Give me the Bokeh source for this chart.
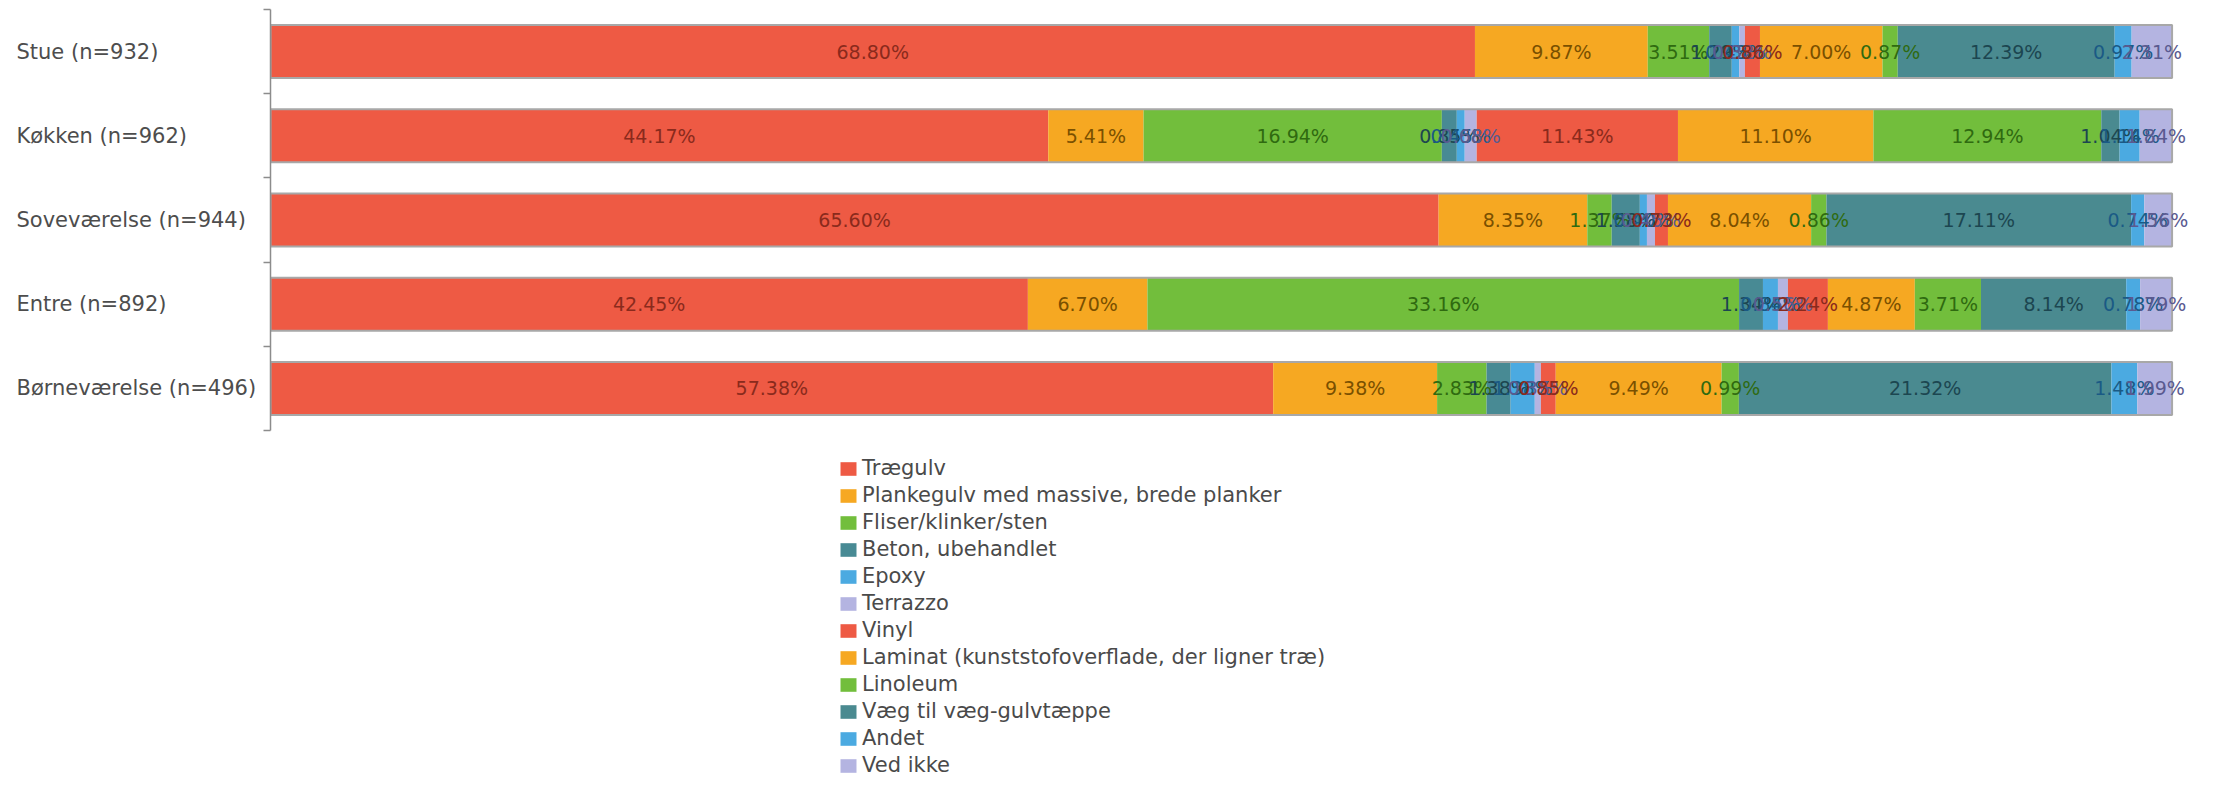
from bokeh.plotting import figure
from bokeh.layouts import row, column
from bokeh.models import ColumnDataSource, Legend, LegendItem, Range1d, FixedTicker
from bokeh.core.properties import value
from bokeh.embed import file_html
from bokeh.resources import INLINE

rooms = ["Stue (n=932)", "Køkken (n=962)", "Soveværelse (n=944)", "Entre (n=892)", "Børneværelse (n=496)"]

materials = ["Trægulv", "Plankegulv med massive, brede planker", "Fliser/klinker/sten",
             "Beton, ubehandlet", "Epoxy", "Terrazzo", "Vinyl",
             "Laminat (kunststofoverflade, der ligner træ)", "Linoleum",
             "Væg til væg-gulvtæppe", "Andet", "Ved ikke"]

traegulv   = [68.80, 44.17, 65.60, 42.45, 57.38]
plankegulv = [9.87, 5.41, 8.35, 6.70, 9.38]
fliser     = [3.51, 16.94, 1.37, 33.16, 2.83]
beton      = [1.29, 0.85, 1.58, 1.34, 1.38]
epoxy      = [0.43, 0.45, 0.40, 0.84, 1.38]
terrazzo   = [0.32, 0.68, 0.45, 0.56, 0.35]
vinyl      = [0.86, 11.43, 0.73, 2.24, 0.85]
laminat    = [7.00, 11.10, 8.04, 4.87, 9.49]
linoleum   = [0.87, 12.94, 0.86, 3.71, 0.99]
vaeg       = [12.39, 1.04, 17.11, 8.14, 21.32]
andet      = [0.97, 1.14, 0.74, 0.78, 1.48]
ved_ikke   = [2.31, 1.84, 1.56, 1.79, 1.99]

series = [traegulv, plankegulv, fliser, beton, epoxy, terrazzo, vinyl,
          laminat, linoleum, vaeg, andet, ved_ikke]

fill_colors = ["#EE5A44", "#F6A822", "#72BE3C", "#488A94", "#4BAAE1", "#B4B4E1",
               "#EE5A44", "#F6A822", "#72BE3C", "#4A8A90", "#4BAAE1", "#B4B4E1"]
text_colors = ["#8A2A1C", "#7A5000", "#2F6A10", "#1C4650", "#1A5A85", "#5A5A90",
               "#8A2A1C", "#7A5000", "#2F6A10", "#1C4650", "#1A5A85", "#5A5A90"]

FONT = "DejaVu Sans"

n = len(rooms)
ys = [n - i - 0.5 for i in range(n)]
totals = [sum(s[i] for s in series) for i in range(n)]
y_range = Range1d(0, n)

TOP, FRAME_H, BOTTOM = 9, 421, 26

# ---- left panel with the category names (left aligned) ----
pl = figure(frame_width=260, frame_height=FRAME_H, output_backend="svg", toolbar_location=None,
            x_range=Range1d(0, 1), y_range=y_range, x_axis_location=None, y_axis_location=None,
            min_border_left=0, min_border_right=0, min_border_top=TOP, min_border_bottom=BOTTOM)
pl.outline_line_color = None
pl.grid.visible = False
csrc = ColumnDataSource(dict(x=[0.0] * n, y=ys, text=rooms))
pl.text(x="x", y="y", text="text", source=csrc, x_offset=16, text_align="left",
        text_baseline="middle", text_color="#4d4d4d", text_font=value(FONT),
        text_font_size="21px")

# ---- main stacked bar panel ----
p = figure(frame_width=1932, frame_height=FRAME_H, output_backend="svg", toolbar_location=None,
           x_range=Range1d(0, 101.6), y_range=y_range,
           x_axis_location=None, min_border_left=10, min_border_right=5,
           min_border_top=TOP, min_border_bottom=BOTTOM)
p.outline_line_color = None
p.grid.visible = False

# ---- legend panel below ----
pg = figure(frame_width=620, frame_height=332, output_backend="svg", toolbar_location=None,
            x_range=Range1d(0, 101.6), y_range=y_range,
            x_axis_location=None, y_axis_location=None,
            min_border_left=838, min_border_right=0, min_border_top=0, min_border_bottom=0)
pg.outline_line_color = None
pg.grid.visible = False

cum = [0.0] * n
items = []
lab_x, lab_y, lab_t, lab_c = [], [], [], []
for k, s in enumerate(series):
    left = list(cum)
    right = [cum[i] + s[i] / totals[i] * 100 for i in range(n)]
    src = ColumnDataSource(dict(y=ys, left=left, right=right))
    p.hbar(y="y", left="left", right="right", height=0.63, source=src,
           fill_color=fill_colors[k], line_color=None)
    rl = pg.hbar(y="y", left="left", right="right", height=0.63, source=src,
                 fill_color=fill_colors[k], line_color=None, visible=False)
    items.append(LegendItem(label=materials[k], renderers=[rl]))
    for i in range(n):
        lab_x.append((left[i] + right[i]) / 2)
        lab_y.append(ys[i])
        lab_t.append("%.2f%%" % s[i])
        lab_c.append(text_colors[k])
    cum = right

osrc = ColumnDataSource(dict(y=ys, left=[0.0] * n, right=cum))
p.hbar(y="y", left="left", right="right", height=0.63, source=osrc,
       fill_color=None, line_color="#a8a8a8", line_width=2)

lsrc = ColumnDataSource(dict(x=lab_x, y=lab_y, text=lab_t, color=lab_c))
p.text(x="x", y="y", text="text", source=lsrc, text_align="center",
       text_baseline="middle", text_color="color",
       text_font=value(FONT), text_font_size="19px")

ax = p.yaxis[0]
ax.ticker = FixedTicker(ticks=list(range(n + 1)))
ax.major_label_overrides = {i: "" for i in range(n + 1)}
ax.major_label_standoff = 0
ax.major_tick_out = 7
ax.major_tick_in = 0
ax.minor_tick_line_color = None
ax.axis_line_color = "#8c8c8c"
ax.major_tick_line_color = "#8c8c8c"
ax.axis_line_width = 1.5
ax.major_tick_line_width = 1.5

legend = Legend(items=items, location="top_left", orientation="vertical")
legend.label_text_font = FONT
legend.label_text_font_size = "21px"
legend.label_text_color = "#4a4a4a"
legend.glyph_width = 20
legend.glyph_height = 17
legend.label_height = 20
legend.label_standoff = 4
legend.spacing = 3
legend.padding = 0
legend.margin = 0
legend.border_line_color = None
legend.background_fill_alpha = 0
legend.inactive_fill_alpha = 0
pg.add_layout(legend, "center")

layout = column(row(pl, p), pg)
open("out.html", "w").write(file_html(layout, INLINE))
